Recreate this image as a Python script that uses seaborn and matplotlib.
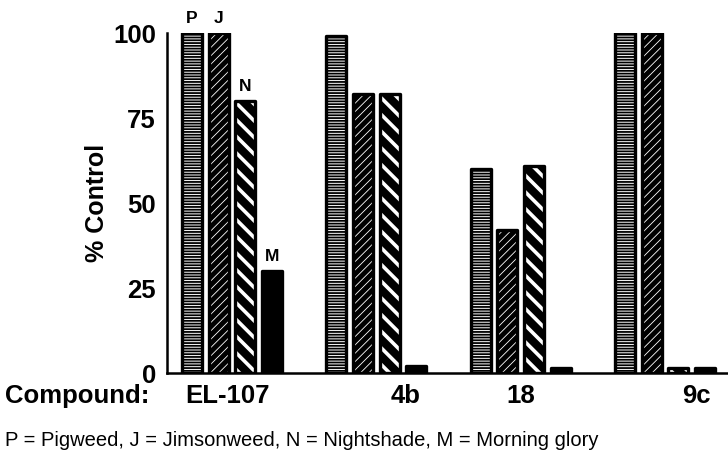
import matplotlib
matplotlib.use("Agg")
import matplotlib.pyplot as plt
from matplotlib.patches import Rectangle
import seaborn as sns
import pandas as pd

# Weed control by compound (% of control)
compounds = ["EL-107", "4b", "18", "9c"]
weeds = ["P", "J", "N", "M"]
pigweed = [100, 99, 60, 100]
jimsonweed = [100, 82, 42, 100]
nightshade = [80, 82, 61, 1.5]
morning_glory = [30, 2, 1.5, 1.5]
y_ticks = [0, 25, 50, 75, 100]
axis_title = "% Control"
row_title = "Compound:"
key_text = "P = Pigweed, J = Jimsonweed, N = Nightshade, M = Morning glory"

# where the compound names sit along the category axis
name_positions = [-0.03, 1.2, 2.0, 3.22]

series = {"P": pigweed, "J": jimsonweed, "N": nightshade, "M": morning_glory}
df = pd.DataFrame(
    [(c, w, series[w][i]) for w in weeds for i, c in enumerate(compounds)],
    columns=["compound", "weed", "value"],
)

sns.set_theme(style="white")
plt.rcParams["font.family"] = ["Liberation Sans", "DejaVu Sans"]
plt.rcParams["text.color"] = "black"
plt.rcParams["axes.labelcolor"] = "black"

fig = plt.figure(figsize=(7.28, 4.61), dpi=100)
ax = fig.add_axes([167 / 728, 88 / 461, 1 - 167 / 728, 340 / 461])

sns.barplot(
    data=df, x="compound", y="value", hue="weed",
    order=compounds, hue_order=weeds,
    width=0.74, gap=0.25, errorbar=None, legend=False,
    palette=["white"] * 4, ax=ax,
)

# fill, hatch pattern, hatch colour, hatch line width for each weed
styles = {
    "P": ("white", "------", "black", 1.3),
    "J": ("black", "////", "white", 0.6),
    "N": ("black", "\\\\", "white", 2.6),
    "M": ("black", None, "black", 1.0),
}

for weed, cont in zip(weeds, ax.containers):
    face, hatch, hcol, hlw = styles[weed]
    for bar in cont:
        bar.set_facecolor(face)
        bar.set_edgecolor(hcol)
        bar.set_linewidth(0)
        if hatch:
            bar.set_hatch(hatch)
            if hasattr(bar, "set_hatch_linewidth"):
                bar.set_hatch_linewidth(hlw)
        outline = Rectangle(
            (bar.get_x(), bar.get_y()), bar.get_width(), bar.get_height(),
            fill=False, edgecolor="black", linewidth=2.4,
            joinstyle="round", zorder=bar.get_zorder() + 0.1,
        )
        ax.add_patch(outline)

# species letters over the first compound's bars
for weed, cont in zip(weeds, ax.containers):
    bar = cont[0]
    ax.annotate(
        weed, (bar.get_x() + bar.get_width() / 2, bar.get_height()),
        xytext=(0, 5), textcoords="offset points",
        ha="center", va="bottom", fontsize=12.5, fontweight="bold",
    )

ax.set_ylim(0, 100)
ax.set_xlim(-0.45, 3.437)
ax.set_yticks(y_ticks)
ax.set_yticklabels([str(t) for t in y_ticks], fontsize=18.5, fontweight="bold")
ax.set_xticks(name_positions)
ax.set_xticklabels(compounds, fontsize=18.5, fontweight="bold")
ax.tick_params(axis="y", direction="out", length=6, width=1.8, pad=2, colors="black")
ax.tick_params(axis="x", length=0, pad=8, colors="black")
ax.set_xlabel("")
ax.set_ylabel(axis_title, fontsize=18, fontweight="bold", labelpad=3)

for side in ["top", "right"]:
    ax.spines[side].set_visible(False)
for side in ["left", "bottom"]:
    ax.spines[side].set_linewidth(1.8)
    ax.spines[side].set_color("black")
ax.spines["bottom"].set_zorder(5)

fig.text(5 / 728, 1 - 396 / 461, row_title, fontsize=18.5, fontweight="bold",
         ha="left", va="center")
fig.text(5 / 728, 1 - 440 / 461, key_text, fontsize=14.5,
         ha="left", va="center")

fig.savefig("out.png", dpi=100)
